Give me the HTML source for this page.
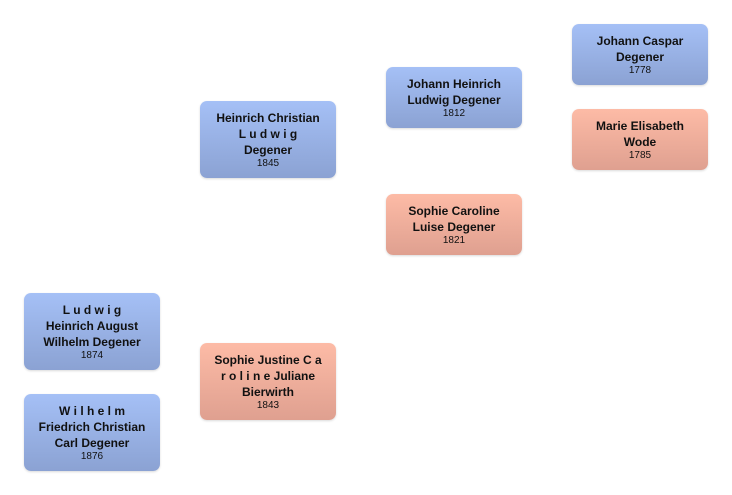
<!DOCTYPE html>
<html><head><meta charset="utf-8"><style>
body{margin:0;width:732px;height:495px;background:#fff;position:relative;font-family:"Liberation Sans","DejaVu Sans",sans-serif;overflow:hidden}
.b{position:absolute;width:136px;border-radius:7px;display:flex;flex-direction:column;justify-content:center;align-items:center;text-align:center;color:#111;box-shadow:0 1px 2px rgba(0,0,0,0.15)}
.m{background:linear-gradient(#a5c0f6,#8ba2d3)}
.f{background:linear-gradient(#fdbba6,#dfa090)}
.n{font-weight:bold;font-size:12px;line-height:16px}
.y{font-size:10px;line-height:12px}
</style></head><body>
<div class="b m" style="left:24px;top:293px;height:77px"><div class="n">L u d w i g<br>Heinrich August<br>Wilhelm Degener</div><div class="y">1874</div></div>
<div class="b m" style="left:24px;top:394px;height:77px"><div class="n">W i l h e l m<br>Friedrich Christian<br>Carl Degener</div><div class="y">1876</div></div>
<div class="b m" style="left:200px;top:101px;height:77px"><div class="n">Heinrich Christian<br>L u d w i g<br>Degener</div><div class="y">1845</div></div>
<div class="b f" style="left:200px;top:343px;height:77px"><div class="n">Sophie Justine C a<br>r o l i n e Juliane<br>Bierwirth</div><div class="y">1843</div></div>
<div class="b m" style="left:386px;top:67px;height:61px"><div class="n">Johann Heinrich<br>Ludwig Degener</div><div class="y">1812</div></div>
<div class="b f" style="left:386px;top:194px;height:61px"><div class="n">Sophie Caroline<br>Luise Degener</div><div class="y">1821</div></div>
<div class="b m" style="left:572px;top:24px;height:61px"><div class="n">Johann Caspar<br>Degener</div><div class="y">1778</div></div>
<div class="b f" style="left:572px;top:109px;height:61px"><div class="n">Marie Elisabeth<br>Wode</div><div class="y">1785</div></div>
</body></html>
